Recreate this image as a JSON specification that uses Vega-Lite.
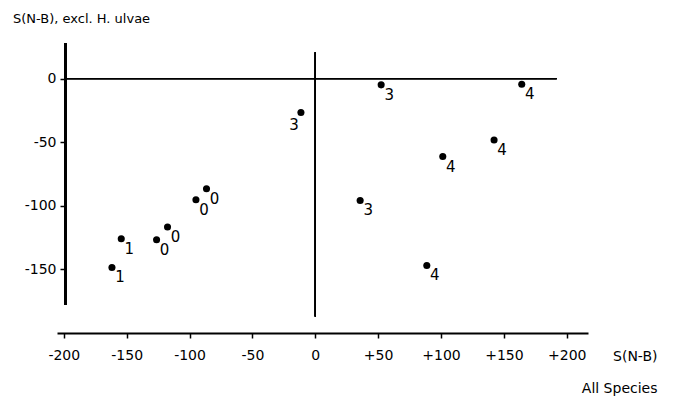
{
  "$schema": "https://vega.github.io/schema/vega-lite/v6.json",
  "width": 531,
  "height": 290,
  "autosize": {"type": "none"},
  "padding": {"left": 57, "top": 43, "right": 86, "bottom": 66},
  "background": "white",
  "config": {"view": {"stroke": null}, "font": "DejaVu Sans"},
  "title": {
    "text": "S(N-B), excl. H. ulvae",
    "anchor": "start",
    "frame": "group",
    "dx": -44,
    "offset": 10,
    "baseline": "middle",
    "fontSize": 13,
    "fontWeight": "normal",
    "font": "DejaVu Sans",
    "color": "black"
  },
  "data": {
    "values": [
      {"x": -161.7, "y": -148.5, "g": "1"},
      {"x": -154.3, "y": -125.9, "g": "1"},
      {"x": -126.2, "y": -126.7, "g": "0"},
      {"x": -117.5, "y": -116.7, "g": "0"},
      {"x": -94.9, "y": -95.3, "g": "0"},
      {"x": -86.5, "y": -86.6, "g": "0"},
      {"x": -11.4, "y": -26.7, "g": "3"},
      {"x": 52.4, "y": -4.9, "g": "3"},
      {"x": 35.7, "y": -95.8, "g": "3"},
      {"x": 164.2, "y": -4.4, "g": "4"},
      {"x": 142.2, "y": -48.2, "g": "4"},
      {"x": 101.4, "y": -61.3, "g": "4"},
      {"x": 88.7, "y": -146.9, "g": "4"}
    ]
  },
  "encoding": {
    "x": {
      "field": "x",
      "type": "quantitative",
      "scale": {"domain": [-205.4, 216.9], "nice": false, "zero": false},
      "axis": {
        "values": [-200, -150, -100, -50, 0, 50, 100, 150, 200],
        "labelExpr": "datum.value > 0 ? '+' + datum.value : '' + datum.value",
        "labelFont": "DejaVu Sans",
        "labelFontSize": 14,
        "labelColor": "black",
        "labelFlush": false,
        "labelOverlap": false,
        "labelPadding": 10,
        "domainColor": "black",
        "domainWidth": 2,
        "tickColor": "black",
        "tickWidth": 1.5,
        "tickSize": 5,
        "grid": false,
        "title": ["S(N-B)", "All Species"],
        "titleX": 600,
        "titleY": 16,
        "titleAlign": "right",
        "titleBaseline": "top",
        "titleFont": "DejaVu Sans",
        "titleFontSize": 14,
        "titleFontWeight": "normal",
        "titleLineHeight": 32,
        "titleColor": "black"
      }
    },
    "y": {
      "field": "y",
      "type": "quantitative",
      "scale": {"domain": [-200, 28], "nice": false, "zero": false},
      "axis": {
        "values": [0, -50, -100, -150],
        "labelExpr": "'' + datum.value",
        "offset": -8,
        "domain": false,
        "labelFont": "DejaVu Sans",
        "labelFontSize": 14,
        "labelColor": "black",
        "labelPadding": 4,
        "tickColor": "black",
        "tickWidth": 1.5,
        "tickSize": 5,
        "grid": false,
        "title": null
      }
    }
  },
  "layer": [
    {
      "mark": {"type": "rule", "color": "black", "strokeWidth": 2},
      "encoding": {
        "x": {"datum": -198.8, "type": "quantitative"},
        "y": {"datum": -178, "type": "quantitative"},
        "y2": {"datum": 28}
      }
    },
    {
      "mark": {"type": "rule", "color": "black", "strokeWidth": 1},
      "encoding": {
        "x": {"datum": -198.8, "type": "quantitative"},
        "x2": {"datum": 192},
        "y": {"datum": 0, "type": "quantitative"}
      }
    },
    {
      "mark": {"type": "rule", "color": "black", "strokeWidth": 1},
      "encoding": {
        "x": {"datum": 0, "type": "quantitative"},
        "y": {"datum": -187, "type": "quantitative"},
        "y2": {"datum": 20.7}
      }
    },
    {
      "mark": {"type": "point", "filled": true, "color": "black", "size": 50, "opacity": 1}
    },
    {
      "transform": [{"filter": "!(datum.x < 0 && datum.g == '3')"}],
      "mark": {"type": "text", "dx": 8, "dy": 10, "fontSize": 15, "font": "DejaVu Sans", "color": "black", "align": "center", "baseline": "middle"},
      "encoding": {"text": {"field": "g"}}
    },
    {
      "transform": [{"filter": "datum.x < 0 && datum.g == '3'"}],
      "mark": {"type": "text", "dx": -7, "dy": 12, "fontSize": 15, "font": "DejaVu Sans", "color": "black", "align": "center", "baseline": "middle"},
      "encoding": {"text": {"field": "g"}}
    }
  ]
}
